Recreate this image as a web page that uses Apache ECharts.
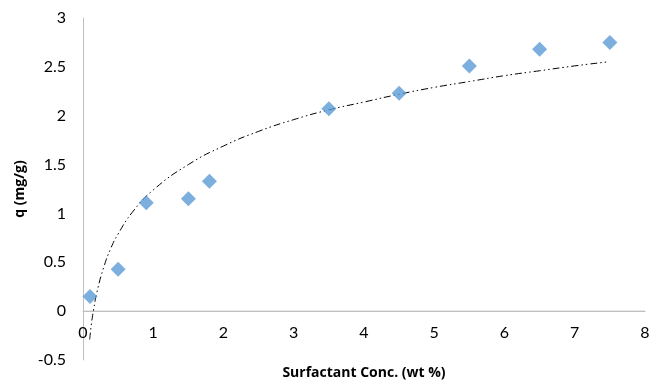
<!DOCTYPE html>
<html><head><meta charset="utf-8">
<script src="https://cdn.jsdelivr.net/npm/echarts@6/dist/echarts.min.js"></script>
<style>html,body{margin:0;padding:0;background:#fff}#c{width:651px;height:383px}</style>
</head><body><div id="c"></div>
<script>
const concX = [0.1, 0.5, 0.9, 1.5, 1.8, 3.5, 4.5, 5.5, 6.5, 7.5];
const qY = [0.15, 0.43, 1.11, 1.15, 1.33, 2.07, 2.23, 2.51, 2.68, 2.75];
const trendX = [0.095, 0.12, 0.15, 0.2, 0.3, 0.4, 0.5, 0.7, 1, 1.5, 2, 2.5, 3, 3.5, 4, 4.5, 5, 5.5, 6, 6.5, 7, 7.46];
const trendY = [-0.29, -0.13, 0.01, 0.20, 0.46, 0.65, 0.79, 1.01, 1.24, 1.50, 1.69, 1.84, 1.96, 2.06, 2.14, 2.22, 2.29, 2.35, 2.41, 2.46, 2.51, 2.55];
const xTicks = [0, 1, 2, 3, 4, 5, 6, 7, 8];
const yTicks = [-0.5, 0, 0.5, 1, 1.5, 2, 2.5, 3];

const font = 'Lato, "Open Sans", sans-serif';
const titleFont = '"Open Sans", sans-serif';
const H = 383, gTop = 18, gBottom = 23;
const yMin = yTicks[0], yMax = yTicks[yTicks.length-1];
const zeroOffset = -((0 - yMin) / (yMax - yMin)) * (H - gTop - gBottom);
const chart = echarts.init(document.getElementById('c'));
chart.setOption({
  animation: false,
  grid: {left: 83, right: 6, top: gTop, bottom: gBottom, containLabel: false, outerBoundsMode: 'none'},
  xAxis: {
    type: 'value', min: xTicks[0], max: xTicks[xTicks.length-1], interval: 1,
    position: 'bottom', offset: zeroOffset,
    axisLine: {show: true, onZero: false, lineStyle: {color: '#bfbfbf', width: 1}},
    axisTick: {show: false}, splitLine: {show: false},
    axisLabel: {color: '#000', fontFamily: font, fontSize: 16, margin: 14},
    name: 'Surfactant Conc. (wt %)', nameLocation: 'middle', nameGap: 55,
    nameTextStyle: {color: '#000', fontFamily: titleFont, fontSize: 14, fontWeight: 'bold'}
  },
  yAxis: {
    type: 'value', min: yMin, max: yMax, interval: 0.5,
    axisLine: {show: true, onZero: false, lineStyle: {color: '#bfbfbf', width: 1}},
    axisTick: {show: false}, splitLine: {show: false},
    axisLabel: {color: '#000', fontFamily: font, fontSize: 16, margin: 17},
    name: 'q (mg/g)', nameLocation: 'middle', nameGap: 46,
    nameTextStyle: {color: '#000', fontFamily: titleFont, fontSize: 14, fontWeight: 'bold'}
  },
  series: [
    {
      type: 'line', data: [[xTicks[0], 0], [xTicks[xTicks.length-1], 0]], symbol: 'none', silent: true,
      lineStyle: {color: '#bfbfbf', width: 1, type: 'solid'}, z: 1
    },
    {
      type: 'line', data: trendX.map((x, i) => [x, trendY[i]]), smooth: true, symbol: 'none',
      lineStyle: {color: '#000', width: 1, type: [7, 3, 1.5, 3, 1.5, 3]}, z: 2
    },
    {
      type: 'scatter', data: concX.map((x, i) => [x, qY[i]]), symbol: 'diamond', symbolSize: [15, 15],
      itemStyle: {color: '#5b9bd5'}, z: 3
    }
  ]
});
</script></body></html>
